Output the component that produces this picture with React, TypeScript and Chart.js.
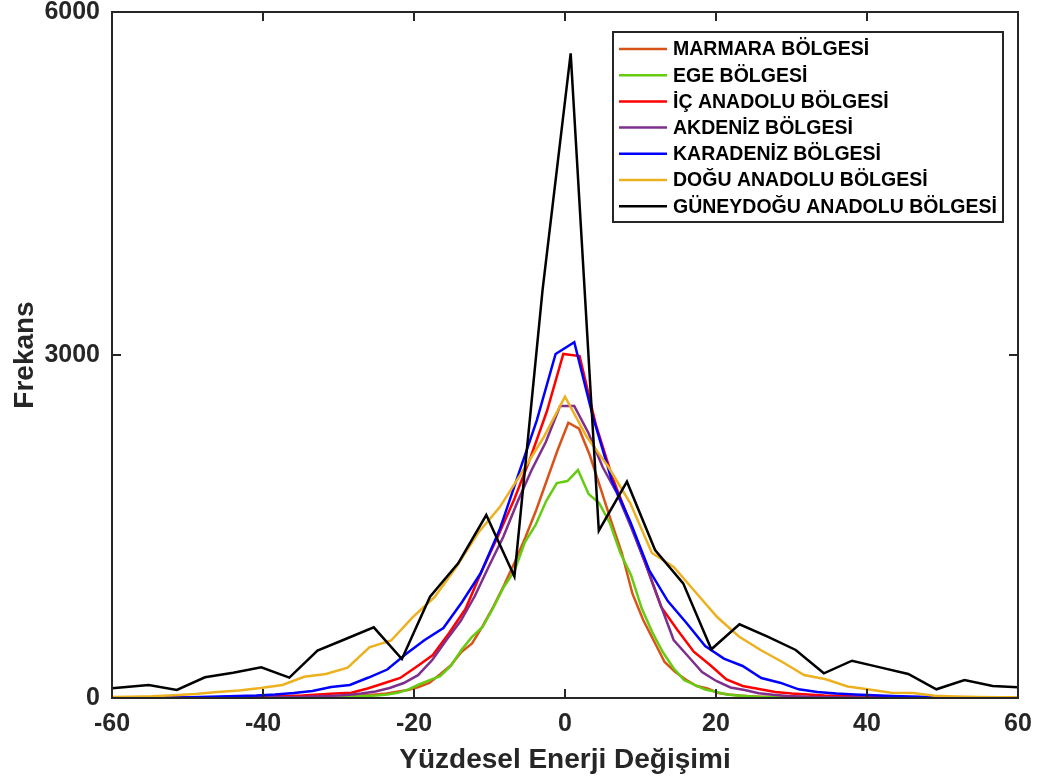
import React, { useEffect, useRef } from "react";
import { Chart, registerables } from "chart.js";

Chart.register(...registerables);

// ---- Data ----
const seriesLabels = [
  "MARMARA BÖLGESİ",
  "EGE BÖLGESİ",
  "İÇ ANADOLU BÖLGESİ",
  "AKDENİZ BÖLGESİ",
  "KARADENİZ BÖLGESİ",
  "DOĞU ANADOLU BÖLGESİ",
  "GÜNEYDOĞU ANADOLU BÖLGESİ",
];
const seriesColors = ["#D95319", "#66CC11", "#FF0000", "#7E2F8E", "#0000FF", "#EDB120", "#000000"];

// histogram bin centres: first centre and bin width for each region
const marmaraStart = -60.49;
const marmaraStep = 1.417;
const marmaraValues = [
  0, 0, 0, 0, 0, 1, 1, 1, 1, 1,
  1, 1, 2, 2, 2, 3, 3, 4, 5, 6, 7, 9, 13, 17, 24, 31, 39, 55, 70, 96, 131, 205, 284, 402, 477, 630, 800, 988, 1189, 1408, 1644, 1907, 2169,
  2408, 2355, 2125, 1837, 1548, 1268, 910, 682, 499, 315, 227, 160, 105, 83, 44, 31, 22, 16, 11, 8, 6, 5, 4, 3, 3, 2, 2, 2, 1, 1, 1, 1,
  0, 0, 0, 0, 0, 0, 0, 0, 0, 0, 0, 0,
];

const egeStart = -60.056;
const egeStep = 1.404;
const egeValues = [
  0, 0, 0, 0, 0, 0, 0, 0, 0, 0,
  1, 1, 1, 1, 2, 2, 3, 3, 4, 5, 6, 8, 10, 14, 18, 22, 30, 45, 75, 118, 157, 192, 280, 420, 534, 621, 787, 971, 1111, 1364, 1513, 1723, 1880, 1898,
  1994, 1784, 1705, 1531, 1268, 1076, 787, 577, 402, 262, 157, 114, 74, 55, 31, 22, 15, 10, 8, 6, 5, 4, 3, 2, 2, 1, 1, 1,
  0, 0, 0, 0, 0, 0, 0, 0, 0, 0, 0, 0, 0, 0, 0,
];

const icAnadoluStart = -60.705;
const icAnadoluStep = 2.16;
const icAnadoluValues = [
  1, 1, 1, 2, 2, 3, 4, 5, 7, 9, 13, 17, 22, 31, 39, 46, 83, 129, 175, 274, 376, 568, 778, 1111, 1417, 1740, 2108, 2510,
  3009, 2991, 2388, 1933, 1566, 1189, 796, 595, 405, 289, 162, 105, 79, 52, 39, 31, 22, 17, 13, 9, 7, 5, 4, 3, 2, 2, 1, 1, 1,
];

const akdenizStart = -60.85;
const akdenizStep = 1.881;
const akdenizValues = [
  0, 0, 0, 1, 1, 1, 1, 2, 2, 3, 4, 5, 6, 8, 10, 15, 19, 26, 39, 57, 87, 131, 200, 332, 507, 673, 892, 1154, 1408, 1714, 1994, 2239,
  2554, 2554, 2318, 2020, 1793, 1496, 1183, 842, 507, 367, 227, 149, 92, 70, 42, 28, 17, 13, 9, 7, 5, 4, 3, 2, 2, 1, 1, 1, 1,
  0, 0, 0, 0, 0,
];

const karadenizStart = -60.695;
const karadenizStep = 2.477;
const karadenizValues = [
  1, 2, 3, 4, 5, 9, 13, 17, 22, 31, 44, 61, 96, 114, 179, 249, 385, 507, 612, 840, 1093, 1469, 1950, 2431, 3009,
  3111, 2458, 1907, 1539, 1119, 848, 656, 455, 345, 280, 175, 134, 76, 52, 39, 31, 24, 17, 13, 9, 7, 5, 4, 3, 2,
];

const doguStart = -60.46;
const doguStep = 2.879;
const doguValues = [
  9, 11, 15, 24, 35, 52, 66, 87, 114, 186, 210, 265, 443, 503, 708, 883, 1146, 1443, 1670, 1968, 2274,
  2635, 2285, 2020, 1705, 1268, 1146, 927, 708, 538, 420, 315, 201, 164, 101, 74, 46, 44, 20, 13, 9, 7, 6,
];

const guneydoguStart = -62.59;
const guneydoguStep = 3.726;
const guneydoguValues = [
  70, 92, 114, 70, 181, 221, 268, 178, 414, 516, 618, 341, 886, 1178, 1600, 1063, 3568,
  5638, 1463, 1892, 1294, 1003, 426, 645, 536, 420, 216, 326, 268, 210, 76, 157, 105, 94,
];

const seriesStarts = [marmaraStart, egeStart, icAnadoluStart, akdenizStart, karadenizStart, doguStart, guneydoguStart];
const seriesSteps = [marmaraStep, egeStep, icAnadoluStep, akdenizStep, karadenizStep, doguStep, guneydoguStep];
const seriesValues = [marmaraValues, egeValues, icAnadoluValues, akdenizValues, karadenizValues, doguValues, guneydoguValues];

const xTickValues = [-60, -40, -20, 0, 20, 40, 60];
const yTickValues = [0, 3000, 6000];
const xTitle = "Yüzdesel Enerji Değişimi";
const yTitle = "Frekans";

const FONT = "'Liberation Sans', Arial, Helvetica, sans-serif";
const AXIS_COLOR = "#262626";

const framePlugin = {
  id: "matlabFrame",
  afterDatasetsDraw(chart: any) {
    const { ctx, chartArea } = chart;
    const { left, right, top, bottom } = chartArea;
    const xs = chart.scales.x;
    const ys = chart.scales.y;
    ctx.save();
    ctx.strokeStyle = AXIS_COLOR;
    ctx.lineWidth = 2;
    ctx.strokeRect(left, top, right - left, bottom - top);
    const tl = 9;
    ctx.beginPath();
    xTickValues.forEach((v) => {
      const px = Math.round(xs.getPixelForValue(v));
      ctx.moveTo(px, bottom);
      ctx.lineTo(px, bottom - tl);
      ctx.moveTo(px, top);
      ctx.lineTo(px, top + tl);
    });
    yTickValues.forEach((v) => {
      const py = Math.round(ys.getPixelForValue(v));
      ctx.moveTo(left, py);
      ctx.lineTo(left + tl, py);
      ctx.moveTo(right, py);
      ctx.lineTo(right - tl, py);
    });
    ctx.stroke();
    ctx.restore();
  },
  afterDraw(chart: any) {
    const { ctx, chartArea } = chart;
    const bx = chartArea.right - 405;
    const by = chartArea.top + 20;
    const bw = 390;
    const bh = 190;
    ctx.save();
    ctx.fillStyle = "#ffffff";
    ctx.fillRect(bx, by, bw, bh);
    ctx.strokeStyle = AXIS_COLOR;
    ctx.lineWidth = 2;
    ctx.strokeRect(bx, by, bw, bh);
    ctx.font = `bold 19.5px ${FONT}`;
    ctx.textBaseline = "middle";
    ctx.textAlign = "left";
    chart.data.datasets.forEach((ds: any, i: number) => {
      const y = by + 17 + i * 26.2;
      ctx.strokeStyle = ds.borderColor;
      ctx.lineWidth = 2.5;
      ctx.beginPath();
      ctx.moveTo(bx + 6, y);
      ctx.lineTo(bx + 54, y);
      ctx.stroke();
      ctx.fillStyle = "#000000";
      ctx.fillText(ds.label, bx + 60, y + 1);
    });
    ctx.restore();
  },
};

export default function App() {
  const canvasRef = useRef<HTMLCanvasElement | null>(null);

  useEffect(() => {
    document.body.style.margin = "0";
    const canvas = canvasRef.current;
    if (!canvas) return;

    const datasets = seriesLabels.map((label, i) => ({
      label,
      data: seriesValues[i].map((v, k) => ({ x: seriesStarts[i] + k * seriesSteps[i], y: v })),
      borderColor: seriesColors[i],
      backgroundColor: seriesColors[i],
      borderWidth: 2.5,
      pointRadius: 0,
      tension: 0,
      fill: false,
      order: seriesLabels.length - 1 - i,
    }));

    const chart = new Chart(canvas, {
      type: "line",
      data: { datasets },
      plugins: [framePlugin],
      options: {
        animation: false,
        responsive: false,
        devicePixelRatio: 1,
        layout: { padding: { top: 12, right: 22, left: 0, bottom: 0 } },
        plugins: { legend: { display: false }, tooltip: { enabled: false } },
        scales: {
          x: {
            type: "linear",
            min: -60,
            max: 60,
            afterFit: (scale: any) => {
              scale.height = 84;
              scale.paddingLeft = 0;
              scale.paddingRight = 0;
            },
            afterBuildTicks: (scale: any) => {
              scale.ticks = xTickValues.map((v) => ({ value: v }));
            },
            ticks: {
              color: AXIS_COLOR,
              font: { family: FONT, size: 25, weight: "bold" },
              padding: 3,
              maxRotation: 0,
              autoSkip: false,
              callback: (v: any) => String(v),
            },
            grid: { display: false },
            border: { display: false },
            title: {
              display: true,
              text: xTitle,
              color: AXIS_COLOR,
              font: { family: FONT, size: 28, weight: "bold", lineHeight: 1.2 },
              padding: { top: 0, bottom: 5 },
            },
          },
          y: {
            type: "linear",
            min: 0,
            max: 6000,
            afterFit: (scale: any) => {
              scale.width = 112;
              scale.paddingTop = 0;
              scale.paddingBottom = 0;
            },
            afterBuildTicks: (scale: any) => {
              scale.ticks = yTickValues.map((v) => ({ value: v }));
            },
            ticks: {
              color: AXIS_COLOR,
              font: { family: FONT, size: 25, weight: "bold" },
              padding: 4,
              autoSkip: false,
              callback: (v: any) => String(v),
            },
            grid: { display: false },
            border: { display: false },
            title: {
              display: true,
              text: yTitle,
              color: AXIS_COLOR,
              font: { family: FONT, size: 28, weight: "bold", lineHeight: 1.2 },
              padding: { top: 8, bottom: 0 },
            },
          },
        },
      },
    } as any);

    return () => {
      chart.destroy();
    };
  }, []);

  return (
    <canvas
      ref={canvasRef}
      width={1040}
      height={782}
      style={{ display: "block", width: 1040, height: 782 }}
    />
  );
}
